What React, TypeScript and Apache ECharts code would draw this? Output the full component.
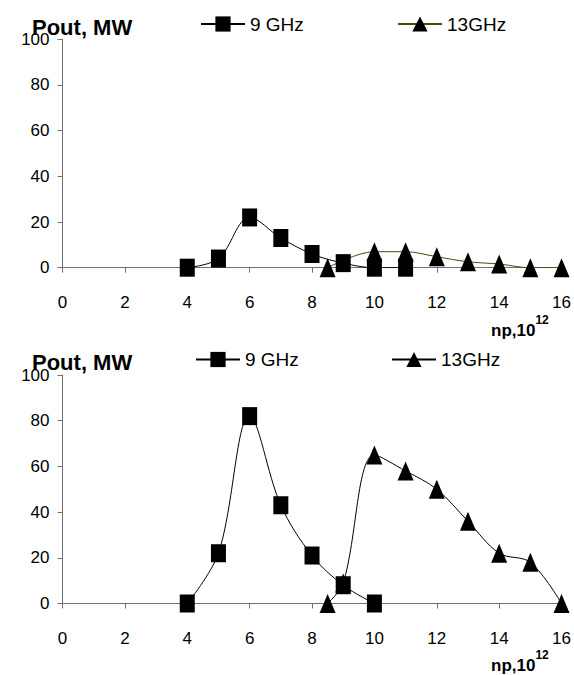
import React, { useEffect, useRef } from "react";
import * as echarts from "echarts";

const xTicks = [0, 2, 4, 6, 8, 10, 12, 14, 16];
const yTicks = [0, 20, 40, 60, 80, 100];

const top9x = [4, 5, 6, 7, 8, 9, 10, 11];
const top9y = [0, 4, 22, 13, 6, 2, 0, 0];
const top13x = [8.5, 10, 11, 12, 13, 14, 15, 16];
const top13y = [0, 7, 7, 4.8, 2.6, 1.6, 0, 0];

const bot9x = [4, 5, 6, 7, 8, 9, 10];
const bot9y = [0, 22, 82, 43, 21, 8, 0];
const bot13x = [8.5, 9, 10, 11, 12, 13, 14, 15, 16];
const bot13y = [0, 9, 65, 58, 50, 36, 22, 18, 0];

const FONT = "'Liberation Sans', Arial, sans-serif";

const zip = (xs: number[], ys: number[]) => xs.map((x, i) => [x, ys[i]]);

export default function App() {
  const ref = useRef<HTMLDivElement>(null);
  useEffect(() => {
    document.body.style.margin = "0";
    const chart = echarts.init(ref.current!, null, { renderer: "svg" });
    const grids = [
      { left: 62.5, width: 503.5, top: 39.3, height: 228.4 },
      { left: 62.5, width: 503.5, top: 375, height: 228.5 },
    ];
    const xAxis = grids.map((_, i) => ({
      type: "value",
      gridIndex: i,
      min: xTicks[0],
      max: xTicks[xTicks.length - 1],
      interval: xTicks[1] - xTicks[0],
      axisLine: { show: true, onZero: false, lineStyle: { color: "#707070", width: 1 } },
      axisTick: { show: true, length: 5, lineStyle: { color: "#707070" } },
      splitLine: { show: false },
      axisLabel: { color: "#000", fontFamily: FONT, fontSize: 17, margin: 26 },
    }));
    const yAxis = grids.map((_, i) => ({
      type: "value",
      gridIndex: i,
      min: yTicks[0],
      max: yTicks[yTicks.length - 1],
      interval: yTicks[1] - yTicks[0],
      axisLine: { show: true, lineStyle: { color: "#707070", width: 1 } },
      axisTick: { show: true, length: 5, lineStyle: { color: "#707070" } },
      splitLine: { show: false },
      axisLabel: { color: "#000", fontFamily: FONT, fontSize: 17, margin: 13 },
    }));
    const mk = (name: string, data: number[][], idx: number, symbol: string, color: string, z: number) => ({
      name,
      type: "line",
      xAxisIndex: idx,
      yAxisIndex: idx,
      data,
      smooth: 0.35,
      symbol,
      symbolSize: symbol === "rect" ? [15, 18] : [16, 19],
      itemStyle: { color: "#000" },
      lineStyle: { color, width: 1 },
      z,
    });
    const lg = (name: string, left: number, top: number) => ({
      left,
      top,
      padding: 0,
      itemWidth: 44,
      itemHeight: 19,
      itemGap: 0,
      textStyle: { fontFamily: FONT, fontSize: 19, color: "#000" },
      data: [{ name }],
    });
    const npText = (top: number) => ({
      type: "text",
      left: 491,
      top,
      style: {
        text: "{a|np,10}{s|12}",
        rich: {
          a: { fontFamily: FONT, fontWeight: "bold", fontSize: 17, fill: "#000", verticalAlign: "bottom", height: 20 },
          s: { fontFamily: FONT, fontWeight: "bold", fontSize: 12, fill: "#000", verticalAlign: "top", height: 20, padding: [0, 0, 10, 0] },
        },
      },
    });
    chart.setOption({
      animation: false,
      grid: grids,
      xAxis,
      yAxis,
      legend: [
        lg("9 GHz", 200, 14.5),
        lg("13GHz ", 397, 14.5),
        lg("9 GHz ", 195, 350),
        lg("13GHz", 391, 350),
      ],
      series: [
        mk("9 GHz", zip(top9x, top9y), 0, "rect", "#000", 3),
        mk("13GHz ", zip(top13x, top13y), 0, "triangle", "#4a4a00", 2),
        mk("9 GHz ", zip(bot9x, bot9y), 1, "rect", "#000", 3),
        mk("13GHz", zip(bot13x, bot13y), 1, "triangle", "#000", 2),
      ],
      graphic: [
        { type: "text", x: 32, y: 27, style: { text: "Pout, MW", font: `bold 22px ${FONT}`, fill: "#000", verticalAlign: "middle" } },
        { type: "text", x: 32, y: 362.5, style: { text: "Pout, MW", font: `bold 22px ${FONT}`, fill: "#000", verticalAlign: "middle" } },
        npText(314),
        npText(649),
      ],
    });
    return () => chart.dispose();
  }, []);
  return <div ref={ref} style={{ width: 574, height: 675, position: "absolute", left: 0, top: 0 }} />;
}
